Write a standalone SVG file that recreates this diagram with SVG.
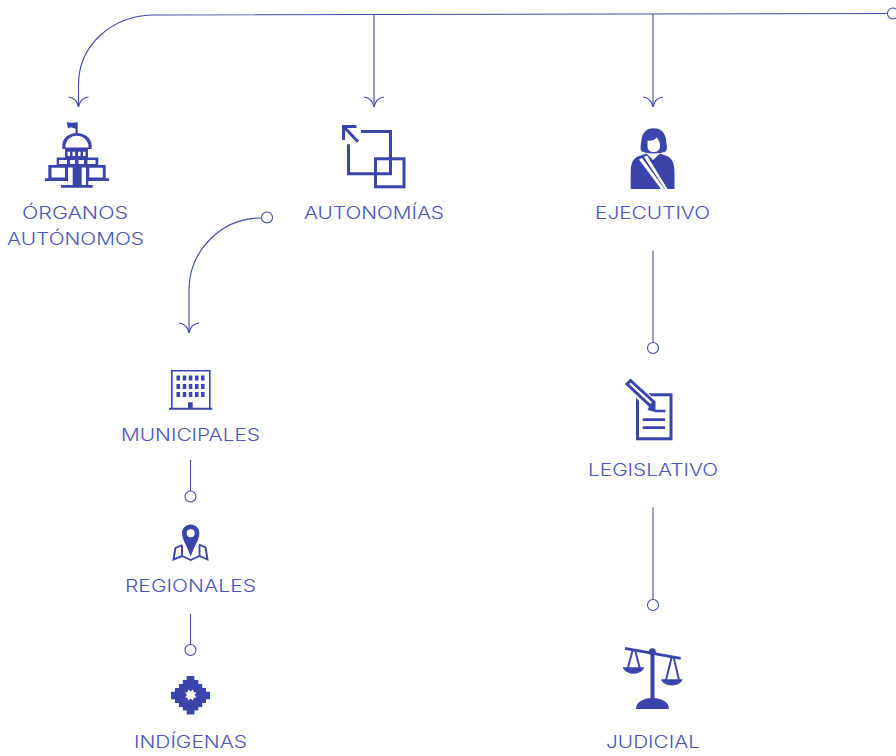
<svg xmlns="http://www.w3.org/2000/svg" width="896" height="756" viewBox="0 0 896 756">
<style>
.lbl{font-family:"Inter","Liberation Sans",sans-serif;font-weight:300;font-size:17px;fill:#4a53b8}
.c{fill:none;stroke:#3f48ad;stroke-width:1.1}
.dot{fill:#fff;stroke:#3f48ad;stroke-width:1.1}
.f{fill:#3b44ab}
.s{fill:none;stroke:#3b44ab;stroke-width:3}
.s2{fill:none;stroke:#3b44ab;stroke-width:2}
.w{fill:#fff}
</style>
<defs>
<marker id="barb" markerUnits="userSpaceOnUse" orient="0" markerWidth="24" markerHeight="14" refX="12" refY="12" viewBox="0 0 24 14">
<path d="M2 2Q10 3 12 12Q14 3 22 2" fill="none" stroke="#3f48ad" stroke-width="1.1"/>
</marker>
</defs>
<g id="connectors">
<path class="c" d="M893 13.500L155 15C112 15 78.500 45 78.500 85V107" marker-end="url(#barb)"/>
<path class="c" d="M374 14V107" marker-end="url(#barb)"/>
<path class="c" d="M653 14V107" marker-end="url(#barb)"/>
<path class="c" d="M261 218C222 218 189 250 189 290V333" marker-end="url(#barb)"/>
<path class="c" d="M653 250.500V342.500"/>
<path class="c" d="M653 507.500V599.500"/>
<path class="c" d="M190.500 460V491"/>
<path class="c" d="M190.500 614V644"/>
<circle class="dot" cx="893" cy="13.500" r="5.500"/>
<circle class="dot" cx="267" cy="217.500" r="5.500"/>
<circle class="dot" cx="653" cy="348" r="5.500"/>
<circle class="dot" cx="653" cy="605" r="5.500"/>
<circle class="dot" cx="190.500" cy="496.500" r="5.500"/>
<circle class="dot" cx="190.500" cy="650" r="5.500"/>
</g>
<g id="organos">
<path class="f" d="M66.700 122.300L72 122.800 77.700 122.300V135H75.500V128.700L71 127.300 68 128.500Z"/>
<path class="f" fill-rule="evenodd" d="M62.300 149V146C62.300 138 69 133 76.700 133C84.500 133 91.700 138 91.700 146V149ZM65.300 147.500H88.700C88.500 140 83 135.800 76.700 135.800C70.500 135.800 65.500 140 65.300 147.500Z"/>
<path class="f" fill-rule="evenodd" d="M65 148H88V157.500H98.300V165H105.700V178.300H109V181H88.300V185H92.700V187.800H61V185H67.700V181H45V178.300H48.300V165H56.700V157.500H65ZM67.500 151.800H70V156H67.500ZM72.500 151.800H75V156H72.500ZM78 151.800H80.500V156H78ZM83 151.800H85.500V156H83ZM59 160H67V164H59ZM70 160H75V164H70ZM78.500 160H84V164H78.500ZM87.500 160H95.500V164H87.500ZM51.500 167.700H65V177.500H51.500ZM89.300 167.700H102.800V177.500H89.300ZM68 167.500H72.700V185H68ZM81.700 167.500H86V185H81.700Z"/>
</g>
<text class="lbl" x="75" y="219" text-anchor="middle" textLength="106" lengthAdjust="spacingAndGlyphs">ÓRGANOS</text>
<text class="lbl" x="75.500" y="245" text-anchor="middle" textLength="137" lengthAdjust="spacingAndGlyphs">AUTÓNOMOS</text>
<g id="autonomias">
<path class="s" d="M361 131.500H390.500V173.800H348.500V144.300"/>
<path class="s" d="M344 127L358 141.700M342 126.500H356.500M343.500 126V140"/>
<rect class="s" x="375.500" y="158.800" width="28.500" height="28"/>
</g>
<text class="lbl" x="374" y="219" text-anchor="middle" textLength="140" lengthAdjust="spacingAndGlyphs">AUTONOMÍAS</text>
<g id="ejecutivo">
<path class="f" d="M630.700 189V172C630.700 163 633 158.500 639 156L646.500 153.500 653 160 660 153.500 667 156C672 158.500 674.500 163 674.500 172V189Z"/>
<path class="f" d="M653.500 128.300C661 128.300 665.500 133 666 140C666.500 145 668 149 665.500 151.500C661 154 646 154 642 151.500C639.500 149 641 145 641.500 140C642 133 646.500 128.300 653.500 128.300Z"/>
<path class="w" d="M647.500 140.500C650 141 654.500 141 656.500 137.500C658 139 660 141 660 146C660 150 657.500 152 653.700 152C650 152 647.500 150 647.500 146Z"/>
<path class="w" d="M639 159.500L642 158 664.500 189H661ZM644 157L647 155.500 667.500 189H665Z"/>
</g>
<text class="lbl" x="652.500" y="219" text-anchor="middle" textLength="115" lengthAdjust="spacingAndGlyphs">EJECUTIVO</text>
<g id="legislativo">
<rect class="s" x="637.500" y="394.800" width="33.500" height="44"/>
<path class="w" d="M623 383L629 376 659 403 660 414 648 411Z"/>
<path class="s" d="M627 384L630.500 380.500 654 402 650.500 406Z"/>
<path class="f" d="M649 407L654 401.500 655.500 403.500 655.500 409.800H665.500V412.300H656L647.500 410Z"/>
<path class="f" d="M642.700 418.300H665V421H642.700ZM642.700 426.300H665V429H642.700Z"/>
</g>
<text class="lbl" x="653" y="476" text-anchor="middle" textLength="130" lengthAdjust="spacingAndGlyphs">LEGISLATIVO</text>
<g id="judicial">
<path class="s2" d="M625 648.300L680.700 658.300" style="stroke-width:2.800"/>
<circle class="f" cx="652.300" cy="651.800" r="3.500"/>
<path class="f" d="M650.500 652H654.500V700H650.500ZM636 709C636 702 643 698 652.500 698C662 698 669 702 669 709Z"/>
<path class="c" style="stroke-width:2" d="M632.700 650L627.500 669M635 650L640 669M671.700 657L666 680M673.500 657L679 680"/>
<path class="f" d="M622.700 667.300H644.300C643 671.500 638 673.800 633.500 673.800C629 673.800 624 671.500 622.700 667.300ZM661 679.300H682.700C681.500 683 677 685.500 671.800 685.500C666.500 685.500 662 683 661 679.300Z"/>
</g>
<text class="lbl" x="653" y="748" text-anchor="middle" textLength="94" lengthAdjust="spacingAndGlyphs">JUDICIAL</text>
<g id="municipales">
<path class="s2" style="stroke-width:1.600" d="M171.800 409V370.800H209.800V409"/>
<path class="f" d="M169 407.700H212.300V409.700H169ZM188 402.300H192.700V408H188Z"/>
<g class="f">
<rect x="176.500" y="375.500" width="3.500" height="5"/><rect x="182.700" y="375.500" width="3.500" height="5"/><rect x="188.800" y="375.500" width="3.500" height="5"/><rect x="195" y="375.500" width="3.500" height="5"/><rect x="201" y="375.500" width="3.500" height="5"/>
<rect x="176.500" y="384" width="3.500" height="5"/><rect x="182.700" y="384" width="3.500" height="5"/><rect x="188.800" y="384" width="3.500" height="5"/><rect x="195" y="384" width="3.500" height="5"/><rect x="201" y="384" width="3.500" height="5"/>
<rect x="176.500" y="392" width="3.500" height="5"/><rect x="182.700" y="392" width="3.500" height="5"/><rect x="188.800" y="392" width="3.500" height="5"/><rect x="195" y="392" width="3.500" height="5"/><rect x="201" y="392" width="3.500" height="5"/>
</g>
</g>
<text class="lbl" x="190.500" y="441" text-anchor="middle" textLength="139" lengthAdjust="spacingAndGlyphs">MUNICIPALES</text>
<g id="regionales">
<path class="s2" style="stroke-width:1.900" d="M182.500 545L175.500 548 173.500 559.500 182 556 190.700 560 199.500 556 207.500 559.500 205.500 547.500 199 544.500M182 546V556M199.500 545V556"/>
<path class="f" fill-rule="evenodd" d="M190.700 524.500C195.500 524.500 199.400 528.400 199.400 533.200C199.400 540 193 548 190.700 557C188.400 548 182 540 182 533.200C182 528.400 185.900 524.500 190.700 524.500ZM190.700 529.200A4 4 0 1 0 190.700 537.200A4 4 0 1 0 190.700 529.200Z"/>
</g>
<text class="lbl" x="190.500" y="592" text-anchor="middle" textLength="131" lengthAdjust="spacingAndGlyphs">REGIONALES</text>
<g id="indigenas">
<path class="f" fill-rule="evenodd" d="M186.700 676H194.400V680H198.300V684H202.200V688H206V691.700H210V699.300H206V703H202.200V707H198.300V710.500H194.400V714.500H186.700V710.500H182.800V707H179V703H175V699.300H171V691.700H175V688H179V684H182.800V680H186.700Z"/>
<path class="w" d="M188.300 689.500L190.700 691.500 193 689.500 193.800 692.300 196.500 692.500 194.500 695 196.500 697.500 193.800 697.800 193 700.500 190.700 698.500 188.300 700.500 187.500 697.800 185 697.500 187 695 185 692.500 187.500 692.300Z"/>
</g>
<text class="lbl" x="190.500" y="748" text-anchor="middle" textLength="113" lengthAdjust="spacingAndGlyphs">INDÍGENAS</text>
</svg>
